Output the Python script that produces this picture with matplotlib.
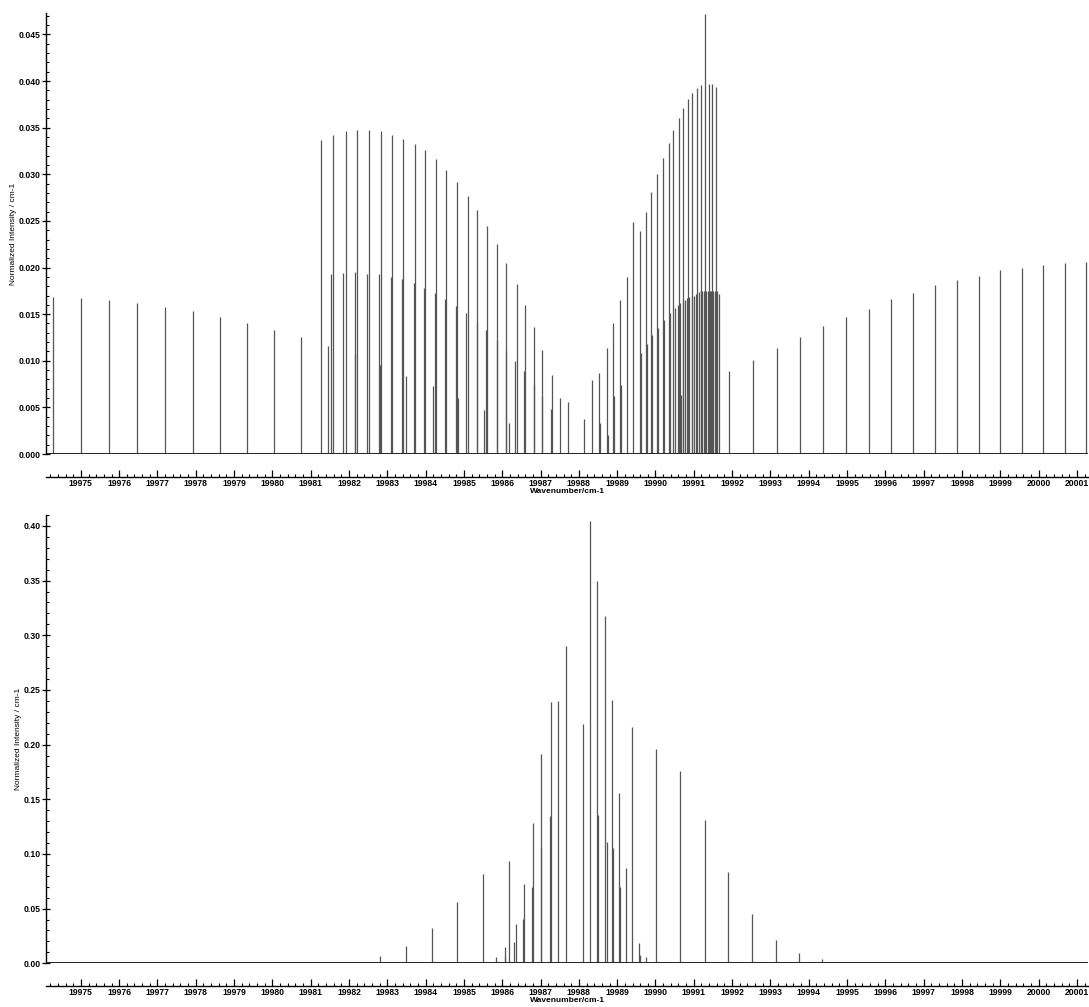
import numpy as np
import matplotlib.pyplot as plt

plt.rcParams['font.family'] = ['Liberation Sans', 'DejaVu Sans']

# ---- top panel: stick positions (cm-1) and intensities
top_left_x = [19974.26, 19975.00, 19975.73, 19976.47, 19977.19, 19977.92,
              19978.62, 19979.34, 19980.05, 19980.74]
top_left_y = [0.0168, 0.0167, 0.0165, 0.0162, 0.0158, 0.0153,
              0.0147, 0.0141, 0.0133, 0.0125]

top_high_x = [19981.28, 19981.59, 19981.91, 19982.21, 19982.53, 19982.83,
              19983.11, 19983.41, 19983.72, 19983.99, 19984.27, 19984.54,
              19984.81, 19985.10, 19985.34, 19985.60, 19985.86, 19986.11,
              19986.38, 19986.60, 19986.83, 19987.05, 19987.29, 19987.50,
              19987.72,
              19988.14, 19988.35, 19988.52, 19988.73, 19988.90, 19989.07,
              19989.25, 19989.42, 19989.60, 19989.75, 19989.88, 19990.05,
              19990.19, 19990.34, 19990.47, 19990.61, 19990.73, 19990.84,
              19990.96, 19991.08, 19991.20, 19991.30, 19991.40, 19991.48,
              19991.58]
top_high_y = [0.0337, 0.0342, 0.0346, 0.0348, 0.0347, 0.0346,
              0.0342, 0.0338, 0.0333, 0.0326, 0.0316, 0.0305,
              0.0292, 0.0277, 0.0262, 0.0245, 0.0225, 0.0205,
              0.0182, 0.0160, 0.0136, 0.0112, 0.0085, 0.0060,
              0.0056,
              0.0038, 0.0079, 0.0087, 0.0114, 0.0140, 0.0165,
              0.0190, 0.0249, 0.0239, 0.0260, 0.0281, 0.0300,
              0.0318, 0.0334, 0.0348, 0.0360, 0.0371, 0.0381,
              0.0387, 0.0393, 0.0396, 0.0472, 0.0397, 0.0397,
              0.0394]

top_mid_x = [19981.54, 19981.83, 19982.16, 19982.46, 19982.78, 19983.09,
             19983.39, 19983.69, 19983.97, 19984.24, 19984.50, 19984.80,
             19985.06, 19985.33, 19985.58, 19985.85, 19986.10, 19986.34,
             19986.57, 19986.82, 19987.04, 19987.28,
             19989.61, 19989.77, 19989.92, 19990.07, 19990.22, 19990.38,
             19990.51, 19990.58, 19990.65, 19990.71, 19990.77, 19990.83,
             19990.88, 19990.95, 19991.01, 19991.07, 19991.14, 19991.18,
             19991.22, 19991.27, 19991.31, 19991.36, 19991.42, 19991.46,
             19991.50, 19991.55, 19991.60, 19991.65]
top_mid_y = [0.0193, 0.0194, 0.0195, 0.0193, 0.0193, 0.0190,
             0.0188, 0.0183, 0.0178, 0.0173, 0.0166, 0.0159,
             0.0151, 0.0142, 0.0133, 0.0122, 0.0111, 0.0100,
             0.0089, 0.0075, 0.0062, 0.0048,
             0.0108, 0.0118, 0.0128, 0.0135, 0.0144, 0.0151,
             0.0157, 0.0160, 0.0162, 0.0164, 0.0165, 0.0167,
             0.0168, 0.0169, 0.0170, 0.0172, 0.0174, 0.0175,
             0.0175, 0.0175, 0.0175, 0.0175, 0.0175, 0.0175,
             0.0175, 0.0175, 0.0175, 0.0172]

top_low_x = [19981.46, 19982.15, 19982.81, 19983.50, 19984.18, 19984.84,
             19985.53, 19986.18, 19988.54, 19988.76, 19988.92, 19989.10,
             19990.66]
top_low_y = [0.0116, 0.0107, 0.0095, 0.0084, 0.0073, 0.0060,
             0.0047, 0.0033, 0.0033, 0.0020, 0.0062, 0.0074,
             0.0063]

top_right_x = [19991.92, 19992.55, 19993.16, 19993.76, 19994.37, 19994.97,
               19995.57, 19996.15, 19996.73, 19997.30, 19997.87, 19998.45,
               19999.00, 19999.57, 20000.12, 20000.68, 20001.23]
top_right_y = [0.0089, 0.0101, 0.0114, 0.0126, 0.0137, 0.0147,
               0.0156, 0.0166, 0.0173, 0.0181, 0.0187, 0.0191,
               0.0197, 0.0200, 0.0203, 0.0205, 0.0206]

# ---- bottom panel
bot_x = [19981.44, 19982.11, 19982.81, 19983.49, 19984.16, 19984.83,
         19985.50, 19985.57, 19985.84, 19986.07, 19986.08, 19986.17,
         19986.31, 19986.35, 19986.54, 19986.56, 19986.78, 19986.79,
         19987.00, 19987.01, 19987.25, 19987.26, 19987.45, 19987.67,
         19988.11, 19988.30, 19988.47, 19988.50, 19988.67, 19988.73,
         19988.86, 19988.89, 19989.05, 19989.07, 19989.22, 19989.39,
         19989.57, 19989.60, 19989.74, 19989.87, 19990.02, 19990.65,
         19991.29, 19991.90, 19992.53, 19993.14, 19993.74, 19994.35,
         19994.95]
bot_y = [0.0006, 0.0012, 0.0070, 0.0160, 0.0326, 0.0564,
         0.0814, 0.0010, 0.0060, 0.0150, 0.0060, 0.0936,
         0.0198, 0.0357, 0.0406, 0.0722, 0.0700, 0.1280,
         0.1058, 0.1914, 0.1347, 0.2392, 0.2401, 0.2901,
         0.2185, 0.4047, 0.3498, 0.1356, 0.3178, 0.1110,
         0.2408, 0.1050, 0.1560, 0.0695, 0.0868, 0.2164,
         0.0183, 0.0080, 0.0060, 0.0015, 0.1960, 0.1759,
         0.1310, 0.0836, 0.0452, 0.0213, 0.0091, 0.0036,
         0.0010]

xmin, xmax = 19974.09, 20001.29
stick = '#555555'

W, H = 1089, 1007
fig = plt.figure(figsize=(W / 100, H / 100), dpi=100)
ax1 = fig.add_axes([46 / W, 1 - 454 / H, 1042 / W, 441 / H])
ax2 = fig.add_axes([46 / W, 1 - 963.3 / H, 1042 / W, 448.3 / H])


def style(ax, ymax, ystep, yminor, fmt):
    ax.set_xlim(xmin, xmax)
    ax.set_ylim(0, ymax)
    ax.axhline(0, color='#222222', lw=1.4, zorder=3)
    ax.spines['top'].set_visible(False)
    ax.spines['right'].set_visible(False)
    ax.spines['bottom'].set_position(('outward', 16.4))  # points, ~23 px
    ax.spines['bottom'].set_linewidth(1.0)
    ax.spines['left'].set_linewidth(1.0)
    ax.set_xticks(np.arange(19975, 20002, 1))
    ax.set_xticks(np.arange(19974.2, 20001.3, 0.2), minor=True)
    ax.set_yticks(np.arange(0, ymax + 1e-9, ystep))
    ax.set_yticks(np.arange(0, ymax + 1e-9, yminor), minor=True)
    ax.yaxis.set_major_formatter(plt.FormatStrFormatter(fmt))
    ax.xaxis.set_major_formatter(plt.FormatStrFormatter('%d'))
    ax.tick_params(axis='x', which='major', direction='in', length=5, width=0.9,
                   labelsize=6.2, pad=1.5)
    ax.tick_params(axis='x', which='minor', direction='in', length=2.5, width=0.8)
    ax.tick_params(axis='y', which='major', direction='inout', length=6, width=0.9,
                   labelsize=6.2, pad=1)
    ax.tick_params(axis='y', which='minor', direction='in', length=2.5, width=0.8)
    for t in ax.get_xticklabels() + ax.get_yticklabels():
        t.set_fontweight('bold')
    ax.set_xlabel('Wavenumber/cm-1', fontsize=6, fontweight='bold', labelpad=0)
    ax.set_ylabel('Normalized Intensity / cm-1', fontsize=6, labelpad=1)


# top panel
for xs, ys in [(top_left_x, top_left_y), (top_high_x, top_high_y),
               (top_mid_x, top_mid_y), (top_low_x, top_low_y),
               (top_right_x, top_right_y)]:
    ax1.vlines(xs, 0, ys, color=stick, lw=0.9)
style(ax1, 0.0473, 0.005, 0.001, '%.3f')

# bottom panel
ax2.vlines(bot_x, 0, bot_y, color=stick, lw=0.9)
style(ax2, 0.41, 0.05, 0.01, '%.2f')

fig.savefig('out.png', dpi=100)
